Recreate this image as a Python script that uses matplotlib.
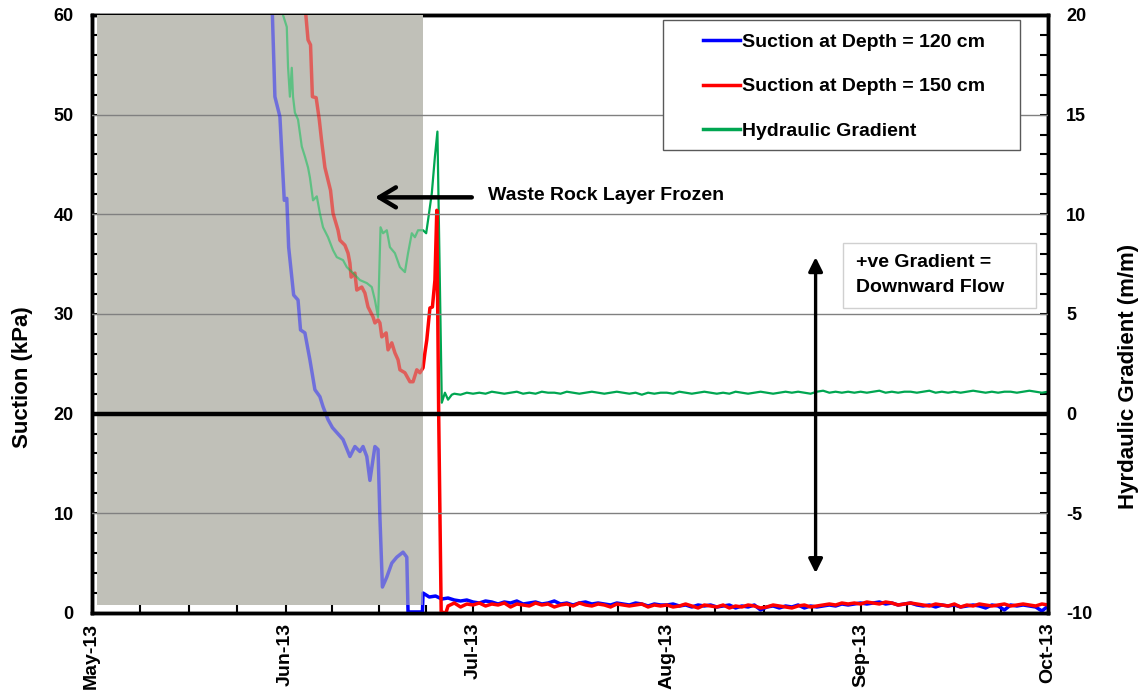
import numpy as np
import matplotlib
matplotlib.use("Agg")
import matplotlib.pyplot as plt
import matplotlib.dates as mdates
from matplotlib.patches import Rectangle
from matplotlib.lines import Line2D
from matplotlib.ticker import MultipleLocator, FixedLocator

plt.rcParams["font.family"] = ["Liberation Sans", "DejaVu Sans"]
plt.rcParams["font.weight"] = "bold"
plt.rcParams["axes.unicode_minus"] = False

# ── data: time in days since 1 May 2013 ──────────────────────────────────────
# suction at 120 cm (kPa), thaw period then daily readings from day 54
blue_days = [28.6, 28.9, 29.3, 30.1, 30.8, 31.2, 31.5, 32.3, 33.0, 33.4, 34.1,
             34.6, 34.9, 35.7, 36.5, 37.0, 37.8, 38.5, 39.2, 40.2, 41.3, 42.1,
             42.9, 43.4, 44.0, 44.5, 45.3, 45.8, 46.1, 46.5, 47.2, 48.0, 48.8,
             49.8, 50.4, 50.6, 52.9, 53.0]
blue_kpa = [64.0, 60.0, 51.8, 49.8, 41.4, 41.6, 36.7, 31.9, 31.4, 28.4, 28.1,
            26.4, 25.4, 22.4, 21.7, 20.7, 19.4, 18.6, 18.1, 17.4, 15.7, 16.7,
            16.2, 16.7, 15.7, 13.3, 16.7, 16.4, 9.6, 2.6, 3.6, 5.0, 5.6,
            6.1, 5.6, 0.1, 0.1, 2.0]
blue_daily_start = 54
blue_daily = [1.6, 1.7, 1.4, 1.5, 1.3, 1.2, 1.3, 1.1,
              1.0, 1.2, 1.1, 0.9, 1.1, 1.0, 1.2, 0.9, 1.0, 1.1, 0.9, 1.0, 1.2, 0.9, 1.0,
              0.8, 1.0, 1.1, 0.9, 1.0, 0.9, 0.8, 1.0, 0.9, 0.8, 1.0, 0.9, 0.7, 0.9, 0.8,
              0.8, 0.9, 0.7, 0.8, 0.6, 0.8, 0.7, 0.8, 0.6, 0.7, 0.8, 0.5, 0.7, 0.6, 0.8,
              0.3, 0.6, 0.7, 0.5, 0.7, 0.6, 0.8, 0.5, 0.7, 0.6, 0.7, 0.8, 0.7, 0.9, 0.8, 0.9,
              1.0, 0.9, 1.0, 1.1, 0.9, 1.0, 0.8, 0.9, 1.0, 0.8, 0.7, 0.8, 0.6, 0.8, 0.7,
              0.8, 0.6, 0.7, 0.8, 0.7, 0.5, 0.8, 0.7, 0.3, 0.8, 0.7, 0.8, 0.7, 0.6, 0.2, 0.7]

# suction at 150 cm (kPa)
red_days = [34.0, 34.25, 34.6, 35.0, 35.3, 35.9, 36.4, 36.75, 37.3, 37.8, 38.2,
            38.6, 39.4, 39.7, 40.5, 41.0, 41.3, 41.5, 42.1, 42.4, 43.2, 43.7,
            44.2, 45.0, 45.3, 45.8, 46.1, 46.4, 47.1, 47.4, 48.0, 48.5, 49.0,
            49.3, 50.1, 50.9, 51.4, 52.0, 52.5, 53.0, 53.3, 53.6, 54.1, 54.5,
            54.9, 55.2, 55.5, 55.9, 56.65]
red_kpa = [63.0, 60.0, 57.5, 57.0, 51.8, 51.7, 49.5, 47.5, 44.7, 43.4, 42.4,
           40.1, 38.4, 37.4, 36.9, 36.1, 35.1, 33.7, 34.1, 32.4, 32.7, 32.1,
           30.7, 29.7, 29.1, 29.4, 29.1, 27.7, 28.1, 26.4, 27.1, 26.1, 25.4,
           24.4, 24.1, 23.2, 23.2, 24.4, 24.1, 24.6, 26.1, 27.4, 30.6, 30.7,
           33.4, 40.4, 20.0, 0.1, 0.0]
red_daily_start = 57
red_daily = [0.7, 1.0, 0.6, 0.9, 0.8,
             1.0, 0.7, 0.9, 0.8, 1.0, 0.6, 0.9, 0.8, 0.7, 1.0, 0.8, 0.9, 0.6, 0.8, 0.9,
             0.7, 1.0, 0.8, 0.7, 0.9, 0.8, 0.6, 0.9, 0.8, 0.7, 0.8, 0.9, 0.6, 0.8, 0.7,
             0.8, 0.6, 0.7, 0.9, 0.7, 0.5, 0.8, 0.7, 0.6, 0.8, 0.5, 0.7, 0.6, 0.8, 0.7,
             0.5, 0.6, 0.8, 0.7, 0.6, 0.5, 0.7, 0.8, 0.6, 0.7, 0.8, 0.9, 0.8, 1.0, 0.9, 1.0,
             0.9, 1.1, 1.0, 0.9, 1.1, 1.0, 0.8, 0.9, 1.0, 0.9, 0.8, 0.7, 0.9, 0.8, 0.7,
             0.9, 0.6, 0.8, 0.7, 0.9, 0.8, 0.7, 0.8, 0.9, 0.7, 0.8, 0.9, 0.8, 0.7, 0.9, 0.8]

# hydraulic gradient (m/m)
green_days = [30.3, 30.6, 31.2, 31.4, 31.7, 32.0, 32.2, 32.5, 33.0, 33.6, 34.1,
              34.6, 34.9, 35.4, 36.0, 36.5, 37.0, 37.8, 38.6, 39.2, 40.2, 40.8,
              41.8, 42.9, 44.0, 44.8, 45.3, 45.8, 46.2, 46.6, 47.2, 47.7, 48.5,
              49.3, 50.1, 50.6, 51.2, 51.7, 52.2, 53.0, 53.5, 53.8, 54.4, 54.9,
              55.3, 56.0, 56.5, 57.0, 57.6]
green_grad = [21.0, 20.0, 19.4, 17.4, 15.9, 17.35, 15.9, 15.1, 14.75, 13.4, 12.9,
              12.35, 11.85, 10.7, 10.9, 10.05, 9.35, 8.85, 8.2, 7.85, 7.7, 7.35,
              7.05, 6.7, 6.55, 6.35, 5.7, 4.85, 9.35, 9.05, 9.2, 8.35, 8.05,
              7.35, 7.1, 8.05, 9.05, 8.85, 9.2, 9.2, 9.05, 9.7, 11.05, 12.9,
              14.15, 0.55, 1.05, 0.7, 0.95]
green_daily_start = 58
green_daily = [1.0, 0.95, 1.05, 1.0,
               1.05, 1.0, 1.1, 1.05, 1.0, 1.05, 1.1, 1.0, 1.05, 1.0, 1.1, 1.05, 1.05, 1.0, 1.1,
               1.05, 1.0, 1.05, 1.1, 1.05, 1.0, 1.05, 1.1, 1.05, 1.0, 1.05, 0.95, 1.05, 1.0, 1.05,
               1.05, 1.0, 1.1, 1.05, 1.0, 1.05, 1.1, 1.05, 1.0, 1.05, 1.0, 1.1, 1.05, 1.0, 1.05,
               1.1, 1.05, 1.0, 1.05, 1.1, 1.05, 1.1, 1.05, 1.0, 1.1, 1.15, 1.05, 1.1, 1.05, 1.1, 1.05,
               1.1, 1.05, 1.1, 1.15, 1.05, 1.1, 1.05, 1.1, 1.1, 1.05, 1.1, 1.15, 1.05, 1.1, 1.05,
               1.1, 1.05, 1.1, 1.15, 1.1, 1.05, 1.1, 1.05, 1.1, 1.1, 1.05, 1.1, 1.15, 1.1, 1.05, 1.1]

# frozen waste-rock period (days) and the shaded band floor (kPa)
frozen_start, frozen_end, frozen_floor = 0.8, 53.0, 0.8

START = np.datetime64("2013-05-01T00:00")
END = np.datetime64("2013-10-01T00:00")


def to_dates(days):
    secs = np.round(np.asarray(days, dtype=float) * 86400).astype("timedelta64[s]")
    return START + secs


def series(days, vals, daily_start, daily):
    d = list(days) + list(range(daily_start, daily_start + len(daily)))
    return to_dates(d), np.array(list(vals) + list(daily))


bx, by = series(blue_days, blue_kpa, blue_daily_start, blue_daily)
rx, ry = series(red_days, red_kpa, red_daily_start, red_daily)
gx, gy = series(green_days, green_grad, green_daily_start, green_daily)

BLUE, RED, GREEN = "#0000ff", "#ff0000", "#00a651"

fig = plt.figure(figsize=(11.44, 6.96), dpi=100)
ax = fig.add_axes([0.0802, 0.1193, 0.836, 0.8592])
ax2 = ax.twinx()
ax.set_zorder(ax2.get_zorder() + 1)
ax.patch.set_visible(False)

# full-colour lines
ax2.plot(gx, gy, color=GREEN, lw=1.6)
ax.plot(bx, by, color=BLUE, lw=2.5, zorder=2)
ax.plot(rx, ry, color=RED, lw=2.5, zorder=2)

# frozen period band, with washed-out lines redrawn inside it
x0 = mdates.date2num(to_dates(frozen_start))
x1 = mdates.date2num(to_dates(frozen_end))
band = Rectangle((x0, frozen_floor), x1 - x0, 60 - frozen_floor,
                 facecolor="#c0c0b8", edgecolor="none", zorder=3)
ax.add_patch(band)

for v in [10, 30, 40, 50]:
    ax.axhline(v, color="#808080", lw=1.0, zorder=3.5)

faded = [
    ax.plot(bx, by, color="#2020ff", lw=2.5, alpha=0.5, zorder=4)[0],
    ax.plot(rx, ry, color=RED, lw=2.5, alpha=0.5, zorder=4)[0],
    ax.plot(gx, gy, color="#00c050", lw=1.6, alpha=0.5, zorder=4,
            transform=ax2.transData)[0],
]
for ln in faded:
    ln.set_clip_path(band)

ax.axhline(20, color="black", lw=3.2, zorder=5)

ax.set_xlim(START, END)
ax.set_ylim(0, 60)
ax2.set_ylim(-10, 20)

# axes, ticks
ax.xaxis.set_major_locator(mdates.MonthLocator())
ax.xaxis.set_major_formatter(mdates.DateFormatter("%b-%y"))
months = [np.datetime64(f"2013-{m:02d}-01") for m in range(5, 11)]
minor = []
for a, b in zip(months[:-1], months[1:]):
    a_num, b_num = mdates.date2num(a), mdates.date2num(b)
    minor += [a_num + k * (b_num - a_num) / 4 for k in (1, 2, 3)]
ax.xaxis.set_minor_locator(FixedLocator(minor))
ax.yaxis.set_major_locator(MultipleLocator(10))
ax.yaxis.set_minor_locator(MultipleLocator(2))
ax2.yaxis.set_major_locator(MultipleLocator(5))
ax2.yaxis.set_minor_locator(MultipleLocator(1))

ax.tick_params(axis="x", which="both", direction="in", length=6, width=1.5,
               labelsize=14, pad=7, labelrotation=90)
ax.tick_params(axis="y", which="both", direction="in", length=6, width=1.5,
               labelsize=13, pad=13)
ax2.tick_params(axis="y", which="both", direction="in", length=6, width=1.5,
                labelsize=13, pad=13)

for a in (ax, ax2):
    for s in a.spines.values():
        s.set_linewidth(2.5)
        s.set_color("black")

ax.set_ylabel("Suction (kPa)", fontsize=16, fontweight="bold")
ax.yaxis.set_label_coords(-0.061, 0.395)
ax2.set_ylabel("Hyrdaulic Gradient (m/m)", fontsize=16, fontweight="bold")
ax2.yaxis.set_label_coords(1.073, 0.395)

# legend with its own box
ax.add_patch(Rectangle((0.5974, 0.7742), 0.3733, 0.2174, transform=ax.transAxes,
                       facecolor="white", edgecolor="#595959", lw=1.0, zorder=6))
handles = [Line2D([], [], color=c, lw=2.5) for c in (BLUE, RED, GREEN)]
labels = ["Suction at Depth = 120 cm", "Suction at Depth = 150 cm",
          "Hydraulic Gradient"]
leg = ax.legend(handles, labels, loc="upper left", bbox_to_anchor=(0.639, 0.969),
                frameon=False, fontsize=14, borderpad=0, borderaxespad=0,
                handlelength=1.9, handletextpad=0.1, labelspacing=1.37)
leg.set_zorder(7)

# annotations
ax.annotate("", xy=(to_dates(45.3), 41.7), xytext=(to_dates(60.8), 41.7),
            arrowprops=dict(arrowstyle="->,head_length=1.0,head_width=0.6",
                            lw=3.2, color="black", mutation_scale=12,
                            shrinkA=0, shrinkB=0), zorder=6)
ax.text(to_dates(63.4), 41.9, "Waste Rock Layer Frozen", fontsize=14,
        fontweight="bold", va="center", ha="left", zorder=6)

ax.annotate("", xy=(to_dates(115.8), 35.7), xytext=(to_dates(115.8), 4.0),
            arrowprops=dict(arrowstyle="<|-|>", lw=2.4, color="black",
                            mutation_scale=21, shrinkA=0, shrinkB=0), zorder=6)
ax.add_patch(Rectangle((0.7856, 0.510), 0.2018, 0.1087, transform=ax.transAxes,
                       facecolor="white", edgecolor="#d0d0d0", lw=1.0, zorder=6))
ax.text(0.7995, 0.5786, "+ve Gradient =", transform=ax.transAxes, fontsize=14,
        fontweight="bold", va="baseline", ha="left", zorder=7)
ax.text(0.7995, 0.5373, "Downward Flow", transform=ax.transAxes, fontsize=14,
        fontweight="bold", va="baseline", ha="left", zorder=7)

fig.savefig("out.png", dpi=100)
